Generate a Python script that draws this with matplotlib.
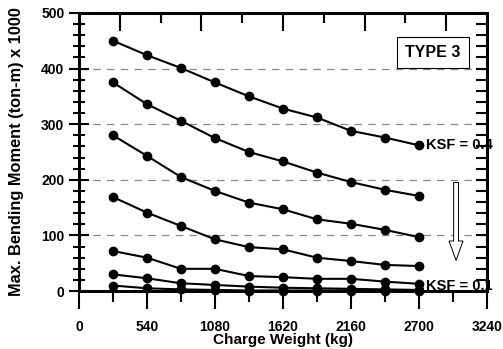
import numpy as np
import matplotlib.pyplot as plt
from matplotlib.ticker import MultipleLocator, FixedLocator

plt.rcParams['font.family'] = ['Liberation Sans', 'DejaVu Sans']
plt.rcParams['font.weight'] = 'bold'

# Data
charge = [270, 540, 810, 1080, 1350, 1620, 1890, 2160, 2430, 2700]
ksf_04 = [450, 424, 401, 375, 350, 328, 312, 288, 276, 262]
ksf_035 = [375, 336, 306, 275, 250, 233, 213, 196, 182, 171]
ksf_03 = [280, 243, 205, 180, 159, 147, 129, 121, 110, 97]
ksf_025 = [169, 141, 117, 93, 79, 75, 60, 54, 47, 45]
ksf_02 = [72, 60, 40, 40, 27, 25, 22, 22, 17, 13]
ksf_015 = [30, 23, 14, 11, 8, 6, 5, 4, 3, 2]
ksf_01 = [10, 5, 3, 2, 1, 1, 1, 1, 0, 0]
series = [ksf_04, ksf_035, ksf_03, ksf_025, ksf_02, ksf_015, ksf_01]

fig = plt.figure(figsize=(5.03, 3.49), dpi=100)
ax = fig.add_axes([0.157, 0.166, 0.811, 0.797])

for s in series:
    ax.plot(charge, s, color='black', lw=1.5, marker='o', ms=6,
            clip_on=False, zorder=3)

ax.set_xlim(0, 3240)
ax.set_ylim(0, 500)

# grid
for yv in [100, 200, 300, 400]:
    ax.axhline(yv, color='#888888', lw=0.9, ls=(0, (6, 5)), zorder=1)

# ticks
ax.xaxis.set_major_locator(MultipleLocator(540))
ax.xaxis.set_minor_locator(MultipleLocator(270))
ax.yaxis.set_major_locator(MultipleLocator(100))
ax.yaxis.set_minor_locator(MultipleLocator(20))
ax.tick_params(axis='x', which='major', direction='out', length=13, width=1.5,
               labelsize=10, pad=8)
ax.tick_params(axis='x', which='minor', direction='out', length=8, width=1.5)
ax.tick_params(axis='y', which='major', direction='inout', length=14, width=1.5,
               labelsize=10)
ax.tick_params(axis='y', which='minor', direction='inout', length=9, width=1.5)
for sp in ax.spines.values():
    sp.set_linewidth(2)

# top ticks
axt = ax.twiny()
axt.set_xlim(0, 3240)
axt.xaxis.set_major_locator(FixedLocator([324, 972, 1620, 2268, 2916]))
axt.xaxis.set_minor_locator(FixedLocator([648, 1296, 1944, 2592]))
axt.tick_params(axis='x', which='major', direction='in', length=13, width=1.5,
                labeltop=False)
axt.tick_params(axis='x', which='minor', direction='in', length=7, width=1.5)

# right ticks
axr = ax.twinx()
axr.set_ylim(0, 500)
axr.yaxis.set_major_locator(MultipleLocator(100))
axr.yaxis.set_minor_locator(MultipleLocator(20))
axr.tick_params(axis='y', which='major', direction='in', length=8, width=1.5,
                labelright=False)
axr.tick_params(axis='y', which='minor', direction='in', length=8, width=1.5)
for a in (axt, axr):
    for sp in a.spines.values():
        sp.set_linewidth(2)

ax.set_xlabel('Charge Weight (kg)', fontsize=11, fontweight='bold', labelpad=-1)
ax.set_ylabel('Max. Bending Moment (ton-m) x 1000', fontsize=11.8,
              fontweight='bold', labelpad=12)

axr.text(2755, 262, 'KSF = 0.4', fontsize=10.5, fontweight='bold', va='center',
         ha='left', zorder=5, clip_on=False)
axr.text(2755, 10, 'KSF = 0.1', fontsize=10.5, fontweight='bold', va='center',
         ha='left', zorder=5, clip_on=False)
axr.text(2811, 429, 'TYPE 3', fontsize=11.5, fontweight='bold', va='center',
         ha='center', zorder=5,
         bbox=dict(boxstyle='square,pad=0.5', fc='white', ec='black', lw=0.8))

axr.annotate('', xy=(2995, 50), xytext=(2995, 200),
             arrowprops=dict(arrowstyle='simple,head_width=1.0,head_length=1.4,tail_width=0.35',
                             fc='white', ec='black', lw=0.7), zorder=4)

fig.savefig('out.png', dpi=100)
